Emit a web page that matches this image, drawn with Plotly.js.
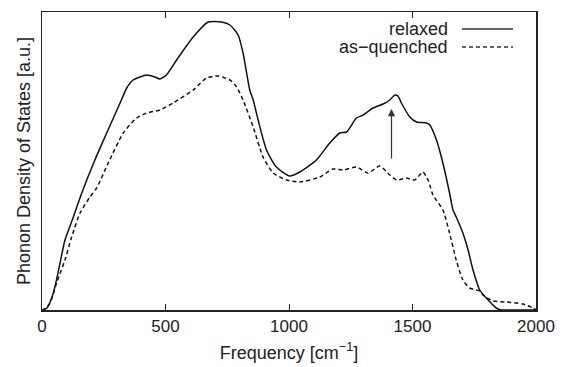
<!DOCTYPE html>
<html>
<head>
<meta charset="utf-8">
<script src="https://cdn.plot.ly/plotly-3.0.1.min.js"></script>
<style>html,body{margin:0;padding:0;background:#fff}#chart{width:565px;height:367px}</style>
</head>
<body>
<div id="chart"></div>
<script>
// Frequency (cm^-1) and phonon DOS (arbitrary units)
const relaxedFreq = [0,19,46,73,93,127,161,214,262,316,343,369,424,457,477,504,545,612,673,727,761,794,814,841,855,875,909,949,1003,1044,1111,1165,1206,1233,1273,1300,1340,1381,1408,1428,1441,1455,1489,1516,1556,1570,1597,1623,1650,1664,1677,1704,1725,1745,1772,1799,1839,1860,1900,1950,2000];
const relaxedDos = [0,1.7,17,47,70,93,117,150,177,207,222,230,235,233,231,235,250,273,288,288,285,275,257,220,210,190,160,143,134,138,150,167,177,178,192,195,202,206,210,215,214,207,193,188,187,185,170,147,117,100,93,77,60,40,20,12,2,0,0,0,0];
const quenchedFreq = [0,5,32,59,93,120,154,194,221,268,329,383,424,477,531,612,666,713,761,788,814,855,895,936,990,1044,1125,1178,1219,1273,1320,1367,1408,1435,1475,1509,1542,1563,1583,1623,1650,1677,1704,1731,1772,1785,1826,1880,1947,1988,2000];
const quenchedDos = [0,0,6.7,27,50,73,97,113,122,147,177,192,197,200,207,220,232,234,230,223,210,183,153,137,130,128,133,141,140,143,137,144,135,130,132,130,138,130,115,100,77,50,30,22,19,15,9,8,6,2,0];
const seriesNames = ["relaxed", "as\u2212quenched"];
const xTicks = [0, 500, 1000, 1500, 2000];
const arrowFreq = 1415, arrowFrom = 150, arrowTo = 201;

const font = "Liberation Sans, Arial, Helvetica, sans-serif";
const traces = [
  {x: relaxedFreq, y: relaxedDos, name: seriesNames[0], mode: "lines",
   line: {color: "#111", width: 1.5, shape: "spline", smoothing: 0.6}, showlegend: false},
  {x: quenchedFreq, y: quenchedDos, name: seriesNames[1], mode: "lines",
   line: {color: "#111", width: 1.5, dash: "4px,3px", shape: "spline", smoothing: 0.6}, showlegend: false}
];
const layout = {
  width: 565, height: 367,
  margin: {l: 42, r: 29, t: 12, b: 57},
  paper_bgcolor: "#fff", plot_bgcolor: "#fff",
  font: {family: font, color: "#222", size: 17},
  xaxis: {range: [0, 2000], tickvals: xTicks, ticktext: xTicks.map(String),
    ticks: "inside", ticklen: 6, tickcolor: "#222", tickwidth: 1,
    showline: true, linecolor: "#222", linewidth: 1.5, mirror: "ticks",
    showgrid: false, zeroline: false, tickfont: {size: 17},
    title: {text: "Frequency [cm<sup>\u22121</sup>]", font: {size: 18}, standoff: 11}},
  yaxis: {range: [0, 298], showticklabels: false, ticks: "",
    showline: true, linecolor: "#222", linewidth: 1.5, mirror: true,
    showgrid: false, zeroline: false,
    title: {text: "Phonon Density of States [a.u.]", font: {size: 18}, standoff: 5}},
  annotations: [
    {x: arrowFreq, y: arrowTo, ax: arrowFreq, ay: arrowFrom, xref: "x", yref: "y", axref: "x", ayref: "y",
     showarrow: true, arrowhead: 2, arrowsize: 1.2, arrowwidth: 1.2, arrowcolor: "#333", text: ""},
    {xref: "paper", yref: "paper", x: (450-42)/494, y: (310-29)/298, xanchor: "right", yanchor: "middle",
     text: seriesNames[0], showarrow: false, font: {size: 18, color: "#222"}},
    {xref: "paper", yref: "paper", x: (450-42)/494, y: (310-47)/298, xanchor: "right", yanchor: "middle",
     text: seriesNames[1], showarrow: false, font: {size: 18, color: "#222"}}
  ],
  shapes: [
    {type: "line", xref: "paper", yref: "paper", x0: (462-42)/494, x1: (513-42)/494, y0: (310-29)/298, y1: (310-29)/298,
     line: {color: "#333", width: 1.5}},
    {type: "line", xref: "paper", yref: "paper", x0: (462-42)/494, x1: (513-42)/494, y0: (310-47)/298, y1: (310-47)/298,
     line: {color: "#333", width: 1.5, dash: "4px,3px"}}
  ]
};
Plotly.newPlot("chart", traces, layout, {staticPlot: true, displayModeBar: false});
</script>
</body>
</html>
